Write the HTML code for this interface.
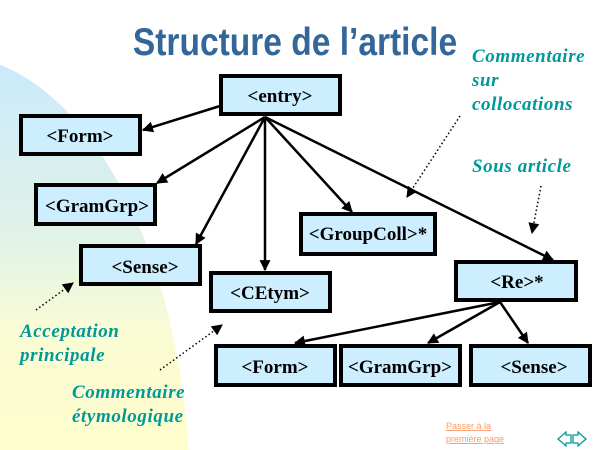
<!DOCTYPE html>
<html><head><meta charset="utf-8"><style>
html,body{margin:0;padding:0;width:600px;height:450px;overflow:hidden;background:#fff}
svg{display:block;position:absolute;left:0;top:0;overflow:hidden}
.b{fill:#cceeff;stroke:#000;stroke-width:4}
.t{font-family:"Liberation Serif",serif;font-weight:bold;font-size:19px;fill:#000}
.g{font-family:"Liberation Serif",serif;font-weight:bold;font-style:italic;font-size:19px;letter-spacing:0.6px;fill:#009999}
.l{stroke:#000;stroke-width:2.5;fill:none}
.d{stroke:#000;stroke-width:1.5;stroke-dasharray:1.5 2.5;fill:none}
</style></head><body>
<svg width="600" height="450" viewBox="0 0 600 450" xmlns="http://www.w3.org/2000/svg">
<defs>
<linearGradient id="bg" gradientUnits="userSpaceOnUse" x1="0" y1="57" x2="0" y2="450">
<stop offset="0" stop-color="#c9eafc"/><stop offset="0.45" stop-color="#e0f2e8"/><stop offset="0.7" stop-color="#fafcd4"/><stop offset="1" stop-color="#fefdcc"/>
</linearGradient>
<marker id="a" viewBox="0 0 10 10" refX="9" refY="5" markerWidth="13" markerHeight="11" markerUnits="userSpaceOnUse" orient="auto"><path d="M0,0L10,5L0,10z" fill="#000"/></marker>
<marker id="a2" viewBox="0 0 10 10" refX="9" refY="5" markerWidth="12" markerHeight="11" markerUnits="userSpaceOnUse" orient="auto"><path d="M0,0L10,5L0,10z" fill="#000"/></marker>
</defs>
<ellipse cx="-50" cy="500" rx="240" ry="445" fill="url(#bg)"/>
<text x="295" y="55" text-anchor="middle" font-family="Liberation Sans,sans-serif" font-weight="bold" font-size="39" fill="#336699" transform="translate(295 0) scale(0.86 1) translate(-295 0)">Structure de l’article</text>

<g class="l" marker-end="url(#a)">
<line x1="220" y1="106" x2="143" y2="130"/>
<line x1="265" y1="117" x2="157" y2="183"/>
<line x1="265" y1="117" x2="196" y2="244"/>
<line x1="265" y1="117" x2="265" y2="270"/>
<line x1="265" y1="117" x2="352" y2="212"/>
<line x1="265" y1="117" x2="553" y2="260"/>
<line x1="500" y1="302" x2="295" y2="343"/>
<line x1="500" y1="302" x2="428" y2="343"/>
<line x1="500" y1="302" x2="528" y2="343"/>
</g>
<g class="d" marker-end="url(#a2)">
<line x1="36" y1="310" x2="73" y2="283"/>
<line x1="160" y1="370" x2="222" y2="325"/>
<line x1="460" y1="116" x2="407" y2="197"/>
<line x1="541" y1="186" x2="532" y2="233"/>
</g>

<rect class="b" x="221" y="76" width="119" height="38"/>
<text class="t" x="280" y="102" text-anchor="middle">&lt;entry&gt;</text>
<rect class="b" x="21" y="116" width="119" height="38"/>
<text class="t" x="80" y="142" text-anchor="middle">&lt;Form&gt;</text>
<rect class="b" x="36" y="185" width="119" height="39"/>
<text class="t" x="97" y="212" text-anchor="middle">&lt;GramGrp&gt;</text>
<rect class="b" x="81" y="246" width="119" height="38"/>
<text class="t" x="145" y="273" text-anchor="middle">&lt;Sense&gt;</text>
<rect class="b" x="211" y="273" width="119" height="38"/>
<text class="t" x="270" y="299" text-anchor="middle">&lt;CEtym&gt;</text>
<rect class="b" x="301" y="214" width="134" height="40"/>
<text class="t" x="368" y="240" text-anchor="middle">&lt;GroupColl&gt;*</text>
<rect class="b" x="456" y="262" width="120" height="38"/>
<text class="t" x="517" y="288" text-anchor="middle">&lt;Re&gt;*</text>
<rect class="b" x="216" y="346" width="119" height="39"/>
<text class="t" x="275" y="373" text-anchor="middle">&lt;Form&gt;</text>
<rect class="b" x="341" y="346" width="119" height="39"/>
<text class="t" x="400" y="373" text-anchor="middle">&lt;GramGrp&gt;</text>
<rect class="b" x="471" y="346" width="119" height="39"/>
<text class="t" x="534" y="373" text-anchor="middle">&lt;Sense&gt;</text>

<text class="g" x="20" y="337">Acceptation</text>
<text class="g" x="20" y="361">principale</text>
<text class="g" x="72" y="398">Commentaire</text>
<text class="g" x="72" y="422">étymologique</text>
<text class="g" x="472" y="62">Commentaire</text>
<text class="g" x="472" y="86">sur</text>
<text class="g" x="472" y="110">collocations</text>
<text class="g" x="472" y="172">Sous article</text>

<text x="446" y="429" font-family="Liberation Sans,sans-serif" font-size="9" fill="#ff9966" text-decoration="underline">Passer à la</text>
<text x="446" y="442" font-family="Liberation Sans,sans-serif" font-size="9" fill="#ff9966" text-decoration="underline">première page</text>
<path d="M558,439 L566,432 L566,435 L571,435 L571,443 L566,443 L566,446 Z" fill="none" stroke="#009999" stroke-width="1.3"/>
<path d="M586,439 L578,432 L578,435 L573,435 L573,443 L578,443 L578,446 Z" fill="none" stroke="#009999" stroke-width="1.3"/>
</svg>
</body></html>
